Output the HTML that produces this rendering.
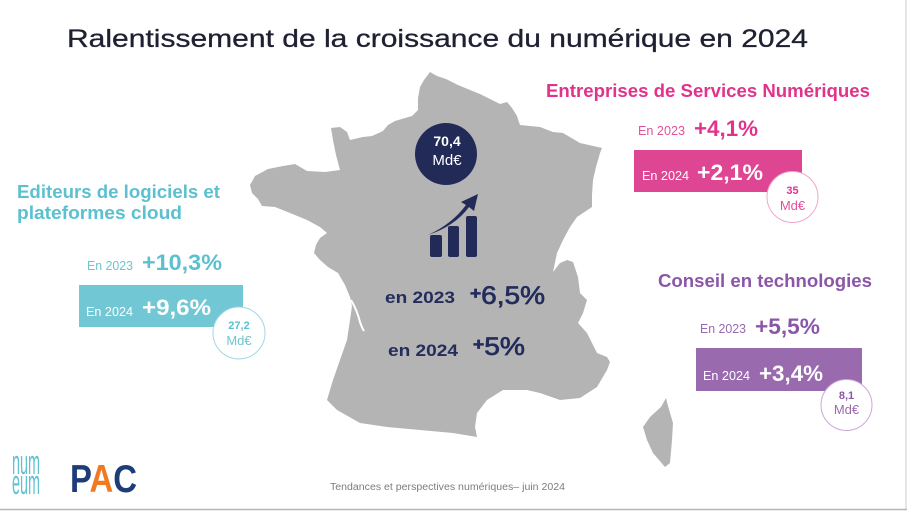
<!DOCTYPE html>
<html><head><meta charset="utf-8"><style>
html,body{margin:0;padding:0;background:#fff;}
svg{display:block;}
text{font-family:"Liberation Sans",sans-serif;}
</style></head><body>
<svg width="911" height="512" viewBox="0 0 911 512" xmlns="http://www.w3.org/2000/svg">
<rect width="911" height="512" fill="#fff"/>
<!-- borders -->
<line x1="906" y1="0" x2="906" y2="510" stroke="#d6d6d6" stroke-width="1.2"/>
<line x1="0" y1="509.5" x2="907" y2="509.5" stroke="#b5b5b5" stroke-width="1.5"/>

<!-- Title -->
<text x="67" y="47" font-size="25" fill="#1f2032" stroke="#1f2032" stroke-width="0.3" textLength="741" lengthAdjust="spacingAndGlyphs">Ralentissement de la croissance du numérique en 2024</text>

<!-- France map -->
<path fill="#b4b4b4" d="M430,72 L437,76 L446,79 L458,85 L470,90 L480,94 L492,100 L500,104 L507,102 L512,108 L517,116 L520,125 L540,127 L553,132 L563,133 L580,143 L602,148 L600,153 L596,167 L593,180 L592,195 L592,207 L583,213 L577,217 L570,227 L563,240 L557,253 L553,272 L560,263 L567,260 L573,262 L578,277 L580,293 L587,300 L583,313 L578,323 L587,333 L597,353 L607,357 L610,362 L607,370 L597,387 L580,398 L560,400 L540,393 L527,390 L503,390 L487,400 L477,413 L475,427 L477,437 L453,433 L420,430 L387,427 L360,423 L337,410 L327,400 L333,380 L340,360 L347,340 L350,320 L352,306 L350,297 L345,285 L338,273 L328,267 L320,260 L314,253 L316,245 L320,238 L327,233 L320,227 L307,220 L290,213 L275,207 L262,206 L258,199 L252,193 L250,185 L255,176 L268,169 L283,166 L295,164 L307,171 L325,172 L340,170 L336,155 L333,140 L331,128 L340,127 L347,132 L350,140 L363,137 L372,136 L383,131 L388,125 L395,121 L405,118 L412,116 L418,110 L418,98 L420,87 L424,80 Z"/>
<path d="M351,300 Q357,310 360,322 Q362,328 364,331" fill="none" stroke="#fff" stroke-width="2"/>
<!-- Corsica -->
<path fill="#b4b4b4" d="M666,398 L668,406 L673,423 L672,440 L670,463 L665,467 L653,453 L647,440 L643,427 L650,417 L661,407 Z"/>

<!-- center circle -->
<circle cx="446" cy="154" r="31" fill="#222a58"/>
<text x="447" y="146" font-size="14" font-weight="bold" fill="#fff" text-anchor="middle">70,4</text>
<text x="447" y="165" font-size="15" fill="#fff" text-anchor="middle">Md€</text>

<!-- chart icon -->
<rect x="430" y="235" width="12" height="22" rx="2" fill="#222a58"/>
<rect x="448" y="226" width="11" height="31" rx="2" fill="#222a58"/>
<rect x="466" y="216" width="11" height="41" rx="2" fill="#222a58"/>
<path fill="#222a58" d="M428,235 Q452,224 466,205 L461,202 L478,194 L474,211 L469,207 Q455,226 428,235 Z"/>

<text x="385" y="303" font-size="17" font-weight="bold" fill="#232c5c" textLength="70" lengthAdjust="spacingAndGlyphs">en 2023</text>
<text x="470" y="304" font-size="25" fill="#232c5c" stroke="#232c5c" stroke-width="0.7" textLength="75" lengthAdjust="spacingAndGlyphs"><tspan font-size="17" font-weight="bold" dy="-5">+</tspan><tspan dy="5">6,5%</tspan></text>
<text x="388" y="356" font-size="17" font-weight="bold" fill="#232c5c" textLength="70" lengthAdjust="spacingAndGlyphs">en 2024</text>
<text x="473" y="355" font-size="25" fill="#232c5c" stroke="#232c5c" stroke-width="0.7" textLength="52" lengthAdjust="spacingAndGlyphs"><tspan font-size="17" font-weight="bold" dy="-5">+</tspan><tspan dy="5">5%</tspan></text>

<!-- Left: Editeurs -->
<text x="17" y="198" font-size="18" font-weight="bold" fill="#5bc0cf" textLength="203" lengthAdjust="spacingAndGlyphs">Editeurs de logiciels et</text>
<text x="17" y="219" font-size="18" font-weight="bold" fill="#5bc0cf" textLength="165" lengthAdjust="spacingAndGlyphs">plateformes cloud</text>
<text x="87" y="270" font-size="13" fill="#6cc6d3" textLength="46" lengthAdjust="spacingAndGlyphs">En 2023</text>
<text x="142" y="270" font-size="22" font-weight="bold" fill="#5bc0cf" textLength="80" lengthAdjust="spacingAndGlyphs">+10,3%</text>
<rect x="79" y="285" width="164" height="42" fill="#72c7d4"/>
<text x="86" y="316" font-size="13" fill="#fff" textLength="47" lengthAdjust="spacingAndGlyphs">En 2024</text>
<text x="142" y="315" font-size="22" font-weight="bold" fill="#fff" textLength="69" lengthAdjust="spacingAndGlyphs">+9,6%</text>
<circle cx="239" cy="333" r="26" fill="#fff" stroke="#9fd9e2" stroke-width="1"/>
<text x="239" y="329" font-size="11" font-weight="bold" fill="#5bc0cf" text-anchor="middle">27,2</text>
<text x="239" y="345" font-size="13" fill="#6cc6d3" text-anchor="middle">Md€</text>

<!-- Right top: ESN -->
<text x="546" y="97" font-size="18" font-weight="bold" fill="#e2338c" textLength="324" lengthAdjust="spacingAndGlyphs">Entreprises de Services Numériques</text>
<text x="638" y="135" font-size="13" fill="#e0529b" textLength="47" lengthAdjust="spacingAndGlyphs">En 2023</text>
<text x="694" y="136" font-size="22" font-weight="bold" fill="#e2338c" textLength="64" lengthAdjust="spacingAndGlyphs">+4,1%</text>
<rect x="634" y="150" width="168" height="42" fill="#de4693"/>
<text x="642" y="180" font-size="13" fill="#fff" textLength="47" lengthAdjust="spacingAndGlyphs">En 2024</text>
<text x="697" y="180" font-size="22" font-weight="bold" fill="#fff" textLength="66" lengthAdjust="spacingAndGlyphs">+2,1%</text>
<circle cx="792.5" cy="197" r="25.5" fill="#fff" stroke="#f0a6c9" stroke-width="1"/>
<text x="792.5" y="194" font-size="11" font-weight="bold" fill="#e2338c" text-anchor="middle">35</text>
<text x="792.5" y="210" font-size="13" fill="#e0529b" text-anchor="middle">Md€</text>

<!-- Right bottom: Conseil -->
<text x="658" y="287" font-size="18" font-weight="bold" fill="#8b56a8" textLength="214" lengthAdjust="spacingAndGlyphs">Conseil en technologies</text>
<text x="700" y="333" font-size="13" fill="#9a6aae" textLength="46" lengthAdjust="spacingAndGlyphs">En 2023</text>
<text x="755" y="334" font-size="22" font-weight="bold" fill="#8b56a8" textLength="65" lengthAdjust="spacingAndGlyphs">+5,5%</text>
<rect x="696" y="348" width="166" height="43" fill="#9a6aae"/>
<text x="703" y="380" font-size="13" fill="#fff" textLength="47" lengthAdjust="spacingAndGlyphs">En 2024</text>
<text x="759" y="381" font-size="22" font-weight="bold" fill="#fff" textLength="64" lengthAdjust="spacingAndGlyphs">+3,4%</text>
<circle cx="846.5" cy="405" r="25.5" fill="#fff" stroke="#c9a9d6" stroke-width="1"/>
<text x="846.5" y="399" font-size="11" font-weight="bold" fill="#8b56a8" text-anchor="middle">8,1</text>
<text x="846.5" y="414" font-size="13" fill="#9a6aae" text-anchor="middle">Md€</text>

<!-- logos -->
<text x="12" y="474" font-size="34" fill="#5fc3d2" textLength="28" lengthAdjust="spacingAndGlyphs">num</text>
<text x="12" y="494" font-size="34" fill="#5fc3d2" textLength="28" lengthAdjust="spacingAndGlyphs">eum</text>
<text x="70" y="492" font-size="39" font-weight="bold" fill="#1e3d78" textLength="67" lengthAdjust="spacingAndGlyphs">P<tspan fill="#f07a24">A</tspan>C</text>

<!-- footer -->
<text x="330" y="490" font-size="10" fill="#7d7d7d" textLength="235" lengthAdjust="spacingAndGlyphs">Tendances et perspectives numériques– juin 2024</text>
</svg>
</body></html>
